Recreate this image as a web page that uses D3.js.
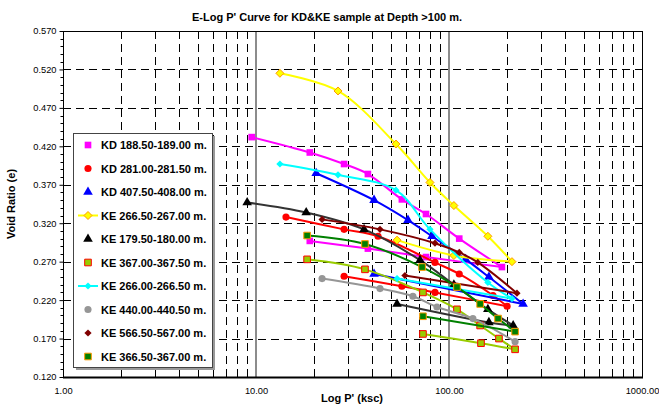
<!DOCTYPE html>
<html><head><meta charset="utf-8">
<script src="https://cdn.jsdelivr.net/npm/d3@7/dist/d3.min.js"></script>
<style>
body{margin:0;background:#fff;}
text{font-family:"Liberation Sans",Arial,sans-serif;}
</style></head>
<body><svg id="chart" width="659" height="410"></svg>
<script>
// ---- data (pressure in ksc, void ratio e) ; loading then unloading ----
const seriesNames = ["KD 188.50-189.00 m.","KD 281.00-281.50 m.","KD 407.50-408.00 m.","KE 266.50-267.00 m.","KE 179.50-180.00 m.","KE 367.00-367.50 m.","KE 266.00-266.50 m.","KE 440.00-440.50 m.","KE 566.50-567.00 m.","KE 366.50-367.00 m."];
const kd188P = [9.5, 19, 28.6, 38, 57, 76, 113, 188, 76, 38, 19];
const kd188E = [0.432, 0.412, 0.397, 0.384, 0.351, 0.332, 0.300, 0.263, 0.276, 0.287, 0.297];
const kd281P = [14.3, 28.6, 42.9, 84.6, 113, 169, 200, 84.6, 57, 28.6];
const kd281E = [0.328, 0.312, 0.303, 0.269, 0.254, 0.226, 0.212, 0.230, 0.238, 0.251];
const kd407P = [20.5, 40.9, 61.3, 81.6, 122, 161, 242, 40.9];
const kd407E = [0.385, 0.350, 0.324, 0.303, 0.273, 0.250, 0.215, 0.254];
const ke266aP = [13.3, 26.6, 53.1, 79.7, 106, 159, 212, 106, 53.8];
const ke266aE = [0.515, 0.492, 0.423, 0.373, 0.343, 0.303, 0.270, 0.278, 0.298];
const ke179P = [9.0, 18.2, 36.3, 70.8, 106, 159, 215, 161, 53.8];
const ke179E = [0.347, 0.334, 0.312, 0.272, 0.240, 0.208, 0.187, 0.191, 0.215];
const ke367P = [18.4, 36.7, 73.3, 110, 145, 181.5, 220, 146.5, 73.3];
const ke367E = [0.273, 0.260, 0.230, 0.208, 0.187, 0.170, 0.156, 0.164, 0.176];
const ke266bP = [13.3, 26.6, 53.1, 79.7, 159, 212, 53.8];
const ke266bE = [0.397, 0.383, 0.363, 0.312, 0.243, 0.222, 0.248];
const ke440P = [22.0, 43.9, 65, 86.6, 133, 220];
const ke440E = [0.248, 0.235, 0.225, 0.211, 0.196, 0.166];
const ke566P = [22.0, 43.9, 84.6, 113, 141, 225, 59.1];
const ke566E = [0.325, 0.312, 0.294, 0.282, 0.269, 0.229, 0.252];
const ke366P = [18.4, 36.7, 72.5, 110, 145, 179.5, 220, 73.3];
const ke366E = [0.304, 0.293, 0.263, 0.237, 0.215, 0.196, 0.179, 0.199];
const yTickValues = [0.120,0.170,0.220,0.270,0.320,0.370,0.420,0.470,0.520,0.570];
const xTickValues = [1,10,100,1000];
const xTickLabels = ["1.00","10.00","100.00","1000.00"];

// ---- styles ----
const styles = [
  {line:"#FF00FF", sym:"square", fill:"#FF00FF", stroke:"none", legLine:false},
  {line:"#FF0000", sym:"circle", fill:"#FF0000", stroke:"none", legLine:false},
  {line:"#0000FF", sym:"triangle", fill:"#0000FF", stroke:"none", legLine:false},
  {line:"#FFFF00", sym:"diamondL", fill:"#FFFF00", stroke:"#FF9900", legLine:true},
  {line:"#333333", sym:"triangle", fill:"#000000", stroke:"none", legLine:false},
  {line:"#99CC00", sym:"square", fill:"#99CC00", stroke:"#FF0000", legLine:false},
  {line:"#00FFFF", sym:"diamond", fill:"#00FFFF", stroke:"none", legLine:true},
  {line:"#969696", sym:"circle", fill:"#969696", stroke:"none", legLine:false},
  {line:"#800000", sym:"diamond", fill:"#800000", stroke:"none", legLine:false},
  {line:"#008000", sym:"square", fill:"#008000", stroke:"#FF9900", legLine:false}
];
const pArrays = [kd188P,kd281P,kd407P,ke266aP,ke179P,ke367P,ke266bP,ke440P,ke566P,ke366P];
const eArrays = [kd188E,kd281E,kd407E,ke266aE,ke179E,ke367E,ke266bE,ke440E,ke566E,ke366E];
const series = seriesNames.map((n,i)=>({name:n, pts:pArrays[i].map((p,j)=>({p, e:eArrays[i][j]})), st:styles[i]}));

const L=63, R=642, T=31, B=377;
const svg = d3.select("#chart");
const x = d3.scaleLog().domain([1,1000]).range([L,R]);
const y = d3.scaleLinear().domain([0.12,0.57]).range([B,T]);

// title
svg.append("text").attr("x",327).attr("y",21).attr("text-anchor","middle")
  .attr("font-size","11px").attr("font-weight","bold").text("E-Log P' Curve for KD&KE sample at Depth >100 m.");

// grid
const g = svg.append("g");
const minorX = [];
[1,10,100].forEach(d=>{for(let k=2;k<=9;k++) minorX.push(d*k);});
g.selectAll(".vmin").data(minorX).enter().append("line")
  .attr("x1",d=>Math.round(x(d))+0.5).attr("x2",d=>Math.round(x(d))+0.5).attr("y1",T).attr("y2",B)
  .attr("stroke","#000").attr("stroke-width",1).attr("stroke-dasharray","8,5");
g.selectAll(".hmaj").data(yTickValues.slice(1,-1)).enter().append("line")
  .attr("x1",L).attr("x2",R).attr("y1",d=>Math.round(y(d))+0.5).attr("y2",d=>Math.round(y(d))+0.5)
  .attr("stroke","#000").attr("stroke-width",1).attr("stroke-dasharray","8,5");
g.selectAll(".vmaj").data([10,100]).enter().append("line")
  .attr("x1",d=>x(d)).attr("x2",d=>x(d)).attr("y1",T).attr("y2",B)
  .attr("stroke","#666").attr("stroke-width",1.5);
g.append("rect").attr("x",L+0.5).attr("y",T+0.5).attr("width",R-L).attr("height",B-T)
  .attr("fill","none").attr("stroke","#000").attr("stroke-width",1);

// axes
const yAxis = d3.axisLeft(y).tickValues(yTickValues).tickFormat(d3.format(".3f")).tickSize(4).tickSizeOuter(0);
const ya = svg.append("g").attr("transform",`translate(${L+0.5},0)`).call(yAxis);
ya.select(".domain").remove();
ya.selectAll("text").attr("font-size","9.3px").attr("font-family","Liberation Sans, Arial, sans-serif").attr("fill","#000");
svg.append("g").selectAll("line").data(d3.range(12,57).map(v=>v/100).filter(v=>Math.round(v*100)%5!==2))
  .enter().append("line").attr("x1",L-2.5).attr("x2",L+0.5).attr("y1",d=>Math.round(y(d))+0.5).attr("y2",d=>Math.round(y(d))+0.5)
  .attr("stroke","#000");
const xAxis = d3.axisBottom(x).tickValues(xTickValues).tickFormat((d,i)=>xTickLabels[i]).tickSize(0);
const xa = svg.append("g").attr("transform",`translate(0,${B})`).call(xAxis);
xa.select(".domain").remove();
xa.selectAll("text").attr("font-size","9.3px").attr("font-family","Liberation Sans, Arial, sans-serif").attr("fill","#000").attr("dy","1.5em");
svg.append("line").attr("x1",L).attr("x2",R+1).attr("y1",B+0.5).attr("y2",B+0.5).attr("stroke","#000").attr("stroke-width",2);

svg.append("text").attr("x",352).attr("y",402).attr("text-anchor","middle")
  .attr("font-size","11px").attr("font-weight","bold").text("Log P' (ksc)");
svg.append("text").attr("transform","translate(15,204) rotate(-90)").attr("text-anchor","middle")
  .attr("font-size","11px").attr("font-weight","bold").text("Void Ratio (e)");

// series
const line = d3.line().x(d=>x(d.p)).y(d=>y(d.e)).curve(d3.curveCatmullRom.alpha(0.5));
function symPath(s){
  if(s==="diamondL") return "M0,-4L4,0L0,4L-4,0Z";
  if(s==="diamond") return "M0,-3.6L3.6,0L0,3.6L-3.6,0Z";
  const m = {square:[d3.symbolSquare,44], circle:[d3.symbolCircle,40], triangle:[d3.symbolTriangle,40]}[s];
  return d3.symbol().type(m[0]).size(m[1])();
}
const sg = svg.append("g");
series.forEach(s=>{
  let im = 0; s.pts.forEach((d,i)=>{ if(d.p>s.pts[im].p) im=i; });
  const load = s.pts.slice(0,im+1), unload = s.pts.slice(im);
  [load, unload].forEach(seg=>{ if(seg.length>1) sg.append("path").attr("d",line(seg)).attr("fill","none").attr("stroke",s.st.line).attr("stroke-width",2); });
  sg.selectAll(null).data(s.pts).enter().append("path")
    .attr("d",symPath(s.st.sym)).attr("transform",d=>`translate(${x(d.p)},${y(d.e)})`)
    .attr("fill",s.st.fill).attr("stroke",s.st.stroke).attr("stroke-width",1);
});

// legend
const lg = svg.append("g");
lg.append("rect").attr("x",76).attr("y",136).attr("width",139).attr("height",234).attr("fill","#999");
lg.append("rect").attr("x",73.5).attr("y",133.5).attr("width",139).attr("height",234).attr("fill","#fff").attr("stroke","#444").attr("stroke-width",1);
series.forEach((s,i)=>{
  const yy = 145 + i*23.5;
  if(s.st.legLine) lg.append("line").attr("x1",78).attr("x2",98).attr("y1",yy).attr("y2",yy).attr("stroke",s.st.line).attr("stroke-width",2);
  lg.append("path").attr("d",symPath(s.st.sym)).attr("transform",`translate(88,${yy})`)
    .attr("fill",s.st.fill).attr("stroke",s.st.stroke).attr("stroke-width",1);
  lg.append("text").attr("x",101).attr("y",yy+4).attr("font-size","11px").attr("font-weight","bold").text(s.name);
});
</script></body></html>
